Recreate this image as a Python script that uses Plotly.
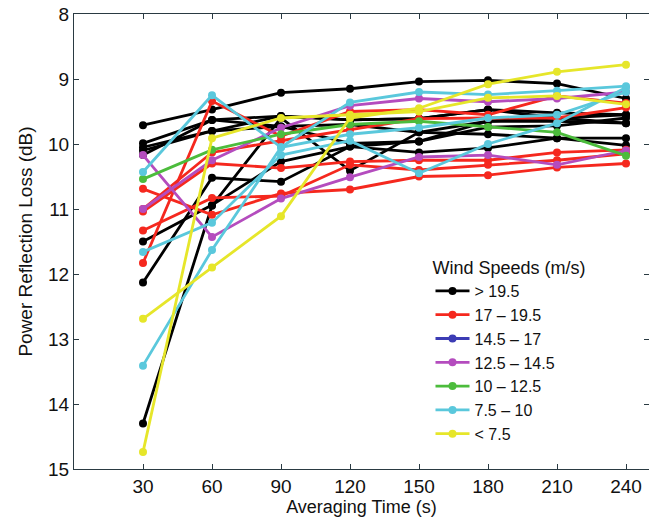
import plotly.graph_objects as go

times = [30, 60, 90, 120, 150, 180, 210, 240]
categories = ["> 19.5", "17 \u2013 19.5", "14.5 \u2013 17", "12.5 \u2013 14.5", "10 \u2013 12.5", "7.5 \u2013 10", "< 7.5"]
colors = ["#000000", "#f5281e", "#3c3cb4", "#b44cbe", "#4cbc3c", "#5ac8dc", "#e6e62a"]

black_series = [
    [9.71, 9.47, 9.21, 9.15, 9.04, 9.02, 9.07, 9.30],
    [9.99, 9.63, 9.57, 9.63, 9.61, 9.47, 9.52, 9.55],
    [10.05, 9.80, 9.73, 9.70, 9.82, 9.85, 9.91, 9.91],
    [10.10, 9.80, 9.57, 9.63, 9.61, 9.47, 9.60, 9.55],
    [10.17, 9.63, 9.73, 9.99, 9.96, 9.65, 9.65, 9.68],
    [11.50, 10.94, 10.27, 10.04, 10.13, 10.06, 9.91, 10.02],
    [12.13, 10.52, 10.58, 10.04, 9.96, 9.74, 9.72, 9.60],
    [14.30, 10.95, 9.60, 10.41, 9.82, 9.65, 9.60, 9.68],
]
red_series = [
    [11.83, 9.34, 9.88, 9.50, 9.47, 9.55, 9.26, 9.37],
    [10.69, 11.09, 10.76, 10.70, 10.50, 10.48, 10.36, 10.30],
    [11.00, 10.13, 9.95, 9.78, 9.61, 9.60, 9.60, 9.44],
    [11.04, 10.30, 10.37, 10.27, 10.25, 10.25, 10.13, 10.09],
    [11.33, 10.83, 10.80, 10.32, 10.40, 10.32, 10.25, 10.15],
]
blue_series = []
purple_series = [
    [10.17, 11.43, 10.84, 10.51, 10.20, 10.17, 10.32, 10.10],
    [11.00, 10.25, 9.75, 9.41, 9.30, 9.35, 9.30, 9.20],
]
green_series = [
    [10.54, 10.09, 9.85, 9.70, 9.65, 9.74, 9.82, 10.18],
]
cyan_series = [
    [10.43, 9.25, 10.05, 9.36, 9.20, 9.24, 9.18, 9.11],
    [11.66, 11.21, 10.17, 9.95, 10.45, 10.00, 9.68, 9.13],
    [13.41, 11.63, 10.05, 9.85, 9.75, 9.60, 9.55, 9.20],
]
yellow_series = [
    [12.69, 11.90, 11.11, 9.60, 9.45, 9.08, 8.89, 8.78],
    [14.74, 9.91, 9.60, 9.55, 9.50, 9.29, 9.26, 9.39],
]

all_groups = [black_series, red_series, blue_series, purple_series,
              green_series, cyan_series, yellow_series]

fig = go.Figure()
for name, color, group in zip(categories, colors, all_groups):
    if not group:
        fig.add_trace(go.Scatter(x=[None], y=[None], mode="lines+markers", name=name,
                                 line=dict(color=color, width=2.8),
                                 marker=dict(color=color, size=8)))
        continue
    for i, ys in enumerate(group):
        fig.add_trace(go.Scatter(x=times, y=ys, mode="lines+markers", name=name,
                                 legendgroup=name, showlegend=(i == 0),
                                 line=dict(color=color, width=2.8),
                                 marker=dict(color=color, size=8)))

FONT = "Liberation Sans, Arial, sans-serif"
axis_col = "#2a3a42"
fig.update_layout(
    width=649, height=521,
    margin=dict(l=74, r=0, t=14, b=52),
    paper_bgcolor="white", plot_bgcolor="white",
    font=dict(family=FONT, size=16, color="#111111"),
    showlegend=True,
    legend=dict(x=0.62, y=0.48, xanchor="left", yanchor="top",
                bgcolor="white", borderwidth=0,
                title=dict(text="Wind Speeds (m/s)", font=dict(family=FONT, size=18)),
                font=dict(family=FONT, size=16), tracegroupgap=0, itemwidth=34),
)
fig.update_xaxes(range=[0, 250], tickvals=times, ticks="inside", ticklen=5,
                 tickfont=dict(family=FONT, size=19),
                 tickcolor=axis_col, showline=True, linecolor=axis_col, linewidth=1.2,
                 mirror="ticks", showgrid=False, zeroline=False,
                 title=dict(text="Averaging Time (s)", standoff=0,
                            font=dict(family=FONT, size=18)))
fig.update_yaxes(range=[15, 8], tickvals=list(range(8, 16)), ticks="inside", ticklen=5,
                 tickfont=dict(family=FONT, size=19),
                 tickcolor=axis_col, showline=True, linecolor=axis_col, linewidth=1.2,
                 mirror="ticks", showgrid=False, zeroline=False,
                 title=dict(text="Power Reflection Loss (dB)", standoff=10,
                            font=dict(family=FONT, size=19)))

fig.write_html("out.html")
